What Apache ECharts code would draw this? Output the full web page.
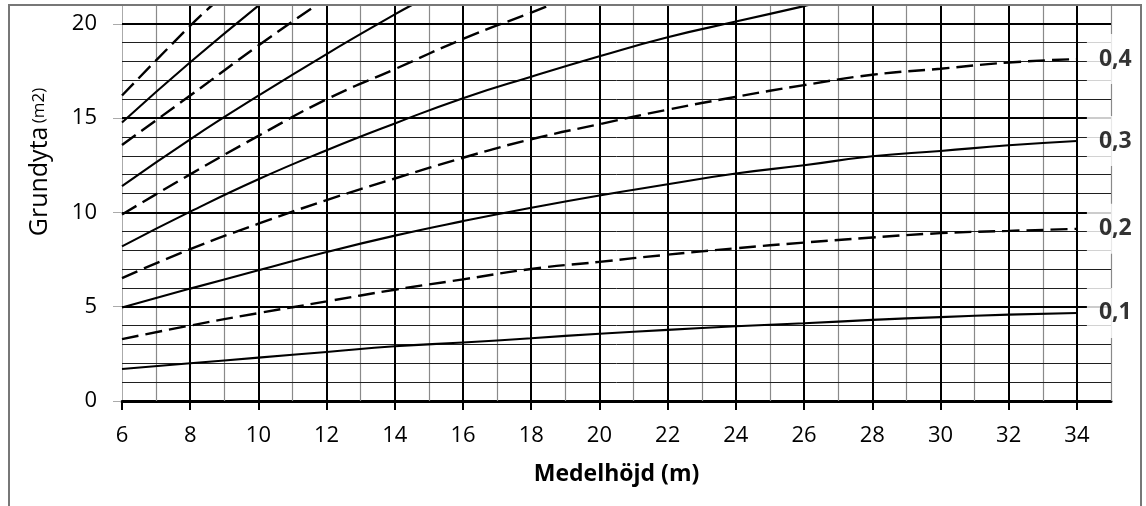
<!DOCTYPE html>
<html>
<head>
<meta charset="utf-8">
<script src="https://cdn.jsdelivr.net/npm/echarts@6/dist/echarts.min.js"></script>
<style>
html,body{margin:0;padding:0;background:#fff;}
#chart{width:1146px;height:506px;}
</style>
</head>
<body>
<div id="chart"></div>
<script>
// ---- data ----
const xTickLabels = [6,8,10,12,14,16,18,20,22,24,26,28,30,32,34];
const yTickLabels = [0,5,10,15,20];
const majorX = [8,10,12,14,16,18,20,22,24,26,28,30,32,34];
const minorX = [7,9,11,13,15,17,19,21,23,25,27,29,31,33,35];
const majorY = [5,10,15,20];
const minorY = [1,2,3,4,6,7,8,9,11,12,13,14,16,17,18,19];

const heights = [6,8,10,12,14,16,18,20,22,24,26,28,30,32,34];
const g01 = [1.7,2.0,2.3,2.6,2.9,3.1,3.33,3.57,3.77,3.96,4.12,4.3,4.45,4.58,4.67];
const g02 = [3.28,4.0,4.66,5.28,5.9,6.45,7.0,7.38,7.76,8.1,8.4,8.67,8.9,9.02,9.13];
const g03 = [4.96,5.96,6.93,7.9,8.77,9.54,10.25,10.9,11.49,12.06,12.5,12.98,13.26,13.56,13.79];
const g04 = [6.52,8.05,9.4,10.65,11.8,12.9,13.88,14.68,15.45,16.13,16.75,17.3,17.62,17.95,18.13];

const h05 = [6,8,10,12,14,16,18,20,22,24,26,26.13];
const g05 = [8.2,10.04,11.76,13.3,14.72,16.06,17.2,18.28,19.29,20.12,20.94,21];
const h06 = [6,8,10,12,14,16,18,18.57];
const g06 = [9.89,12.02,14.06,16.0,17.6,19.2,20.6,21];
const h07 = [6,8,10,12,14,14.5];
const g07 = [11.4,13.88,16.19,18.4,20.5,21];
const h08 = [6,8,10,11.7];
const g08 = [13.58,16.2,18.85,21];
const h09 = [6,8,10];
const g09 = [14.77,17.96,20.97];
const h10 = [6,8,8.65];
const g10 = [16.2,19.9,21];

const curveLabels = ['0,1','0,2','0,3','0,4','','','','','',''];
const xName = 'Medelhöjd (m)';
const yName1 = 'Grundyta';
const yName2 = '(m2)';

// ---- build ----
const curves = [
  [heights,g01],[heights,g02],[heights,g03],[heights,g04],
  [h05,g05],[h06,g06],[h07,g07],[h08,g08],[h09,g09],[h10,g10]
];

function gridSeries(list, color, width, z){
  return {
    type:'line', data:[], z:z, silent:true,
    markLine:{
      silent:true, symbol:'none', animation:false, z:z,
      label:{show:false},
      lineStyle:{type:'solid', color:color, width:width},
      data: list
    }
  };
}

const series = [];
series.push(gridSeries(minorX.map(v=>({xAxis:v})), '#8a8a8a', 1.2, 1));
series.push(gridSeries(minorY.map(v=>({yAxis:v})), '#1f1f1f', 1, 1));
series.push(gridSeries(majorX.map(v=>({xAxis:v})).concat(majorY.map(v=>({yAxis:v}))), '#000', 2, 2));

curves.forEach((c,i)=>{
  const dashed = i % 2 === 1;
  series.push({
    type:'line', name: 'c'+i, z:3,
    data: c[0].map((x,k)=>[x,c[1][k]]),
    smooth:0.5, showSymbol:false, symbol:'none', clip:true,
    lineStyle:{color:'#000', width: dashed?2.4:2.1, type: dashed?[17,7]:'solid'}
  });
});

// end labels of the curves that reach x = 34, on white boxes
const labelPoints = [];
curves.forEach((c,i)=>{
  if (curveLabels[i]) {
    const n = c[0].length - 1;
    labelPoints.push({value:[c[0][n], c[1][n]], name:curveLabels[i]});
  }
});
series.push({
  type:'scatter', z:10, silent:true, symbolSize:0, clip:false,
  data: labelPoints,
  label:{
    show:true, position:'right', distance:10, formatter:'{b}',
    fontFamily:'Open Sans', fontWeight:'bold', fontSize:23, color:'#000',
    backgroundColor:'#fff', padding:[13,14,13,12], lineHeight:24
  }
});

const chart = echarts.init(document.getElementById('chart'), null, {renderer:'canvas'});
chart.setOption({
  animation:false,
  backgroundColor:'#fff',
  grid:{left:122, right:35, top:5, bottom:105, containLabel:false},
  xAxis:{
    type:'value', min:6, max:35, interval:1,
    name:xName, nameLocation:'middle', nameGap:62,
    nameTextStyle:{fontFamily:'Open Sans', fontWeight:'bold', fontSize:23, color:'#000'},
    axisLine:{show:true, lineStyle:{color:'#000', width:3}},
    axisTick:{show:true, customValues:xTickLabels, length:9, inside:false, lineStyle:{color:'#000', width:2}},
    axisLabel:{customValues:xTickLabels, fontFamily:'Open Sans', fontSize:22, color:'#000', margin:24},
    splitLine:{show:false}
  },
  yAxis:{
    type:'value', min:0, max:21, interval:1,
    name:'{a|'+yName1+'} {b|'+yName2+'}', nameLocation:'middle', nameGap:70, nameRotate:90,
    nameTextStyle:{padding:[0,0,0,82],
      rich:{a:{fontFamily:'Open Sans', fontSize:25, color:'#000'},
            b:{fontFamily:'Open Sans', fontSize:17, color:'#000'}}},
    axisLine:{show:true, lineStyle:{color:'#aaa', width:1}},
    axisTick:{show:true, customValues:yTickLabels, length:9, inside:false, lineStyle:{color:'#aaa', width:1}},
    axisLabel:{customValues:yTickLabels, fontFamily:'Open Sans', fontSize:22, color:'#000', margin:25},
    splitLine:{show:false}
  },
  series: series,
  graphic:[{
    type:'rect', z:100, silent:true,
    shape:{x:9, y:5, width:1132, height:600},
    style:{fill:null, stroke:'#777', lineWidth:2}
  }]
});
</script>
</body>
</html>
